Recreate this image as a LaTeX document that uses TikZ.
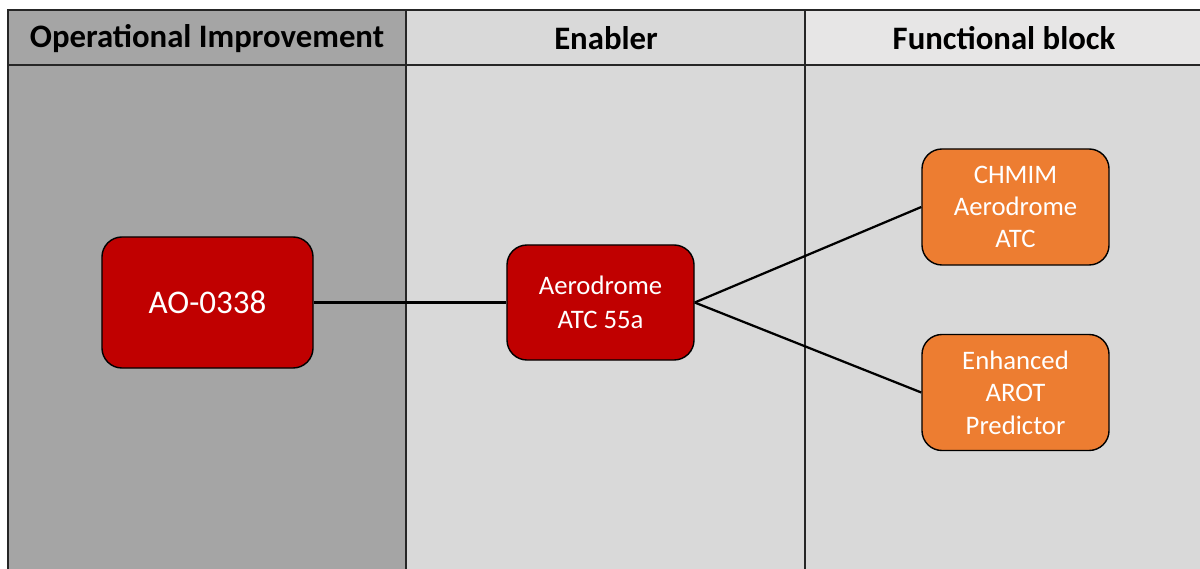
\documentclass[tikz,border=0pt]{standalone}
\usepackage{fontspec}
\setmainfont{Carlito}
\definecolor{oigray}{HTML}{A5A5A5}
\definecolor{engray}{HTML}{D9D9D9}
\definecolor{fbgray}{HTML}{E7E6E6}
\definecolor{aored}{HTML}{C00000}
\definecolor{fborange}{HTML}{ED7D31}
\begin{document}
\begin{tikzpicture}[x=0.025cm, y=-0.025cm,
    frame/.style={line width=1.5pt, draw=black!85},
    headtext/.style={font=\fontsize{23.3}{27}\selectfont\bfseries, text=black},
    box/.style={draw=black, line width=1pt, rounded corners=0.5cm, text=white, align=center, inner sep=2pt},
    redbox/.style={box, fill=aored},
    orangebox/.style={box, fill=fborange, minimum width=4.675cm, minimum height=2.9cm,
      font=\fontsize{19}{23}\selectfont},
    link/.style={line width=1.6pt, draw=black}]
    \useasboundingbox (0,0) rectangle (1200,569);

    % Column backgrounds
    \fill[oigray] (8,10) rectangle (406,569);
    \fill[engray] (406,10) rectangle (805,569);
    \fill[fbgray] (805,10) rectangle (1200,65);
    \fill[engray] (805,65) rectangle (1200,569);

    % Grid lines
    \draw[frame] (8,569) -- (8,10) -- (1200,10);
    \draw[frame] (8,65) -- (1200,65);
    \foreach \x in {406, 805} {
        \draw[frame] (\x,10) -- (\x,569); % Column dividers
      }

    % Headers
    \foreach \x/\name/\txt in {207/oihead/Operational Improvement, 606/enhead/Enabler, 1004/fbhead/Functional block} {
        \node[headtext] (\name) at (\x,38.5) {\txt};
      }

    % Boxes
    \node[redbox, minimum width=5.275cm, minimum height=3.275cm,
      font=\fontsize{23.5}{27}\selectfont] (ao) at (207.5,302.5) {AO-0338};
    \node[redbox, minimum width=4.675cm, minimum height=2.875cm,
      font=\fontsize{19}{24}\selectfont] (aero) at (600.5,302.5) {Aerodrome\\ATC 55a};
    \node[orangebox] (chmim) at (1015.5,207) {CHMIM\\Aerodrome\\ATC};
    \node[orangebox] (arot) at (1015.5,392.5) {Enhanced\\AROT\\Predictor};

    % Connectors
    \draw[link] (ao.east) -- (aero.west);
    \draw[link] (aero.east) -- (chmim.west);
    \draw[link] (aero.east) -- (arot.west);
  \end{tikzpicture}
\end{document}
